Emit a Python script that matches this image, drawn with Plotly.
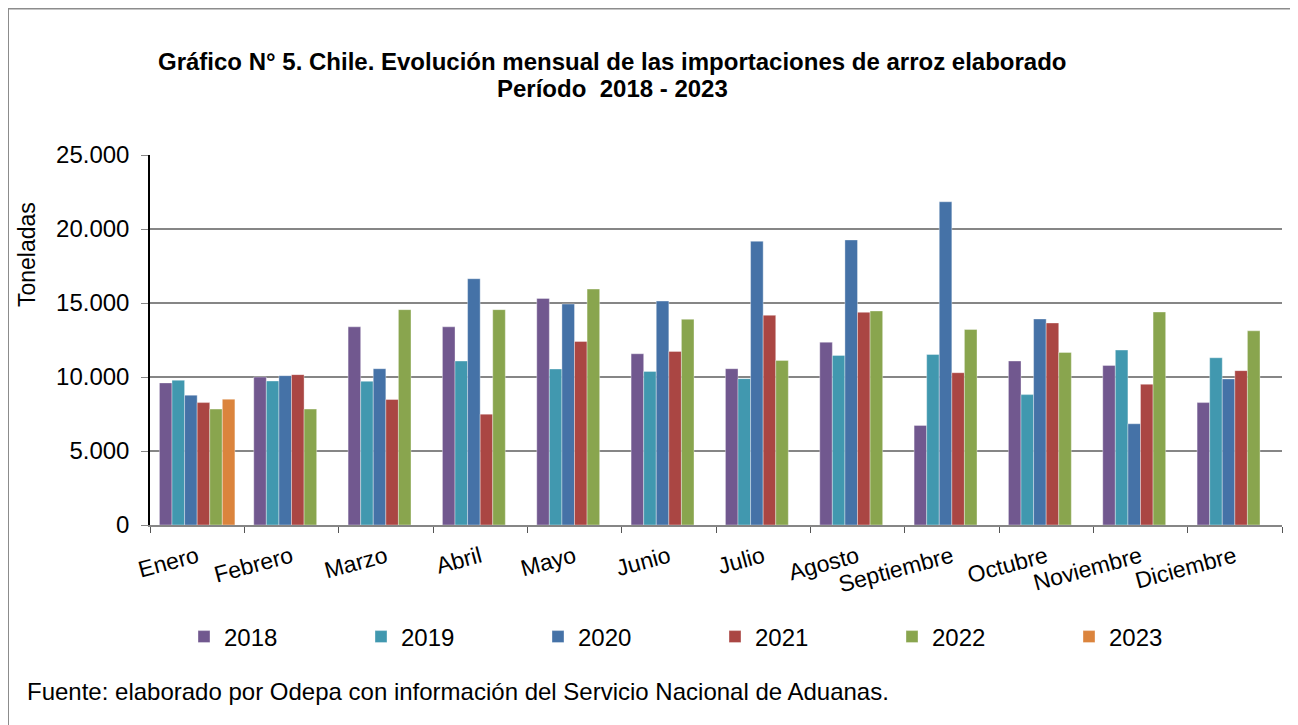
import plotly.graph_objects as go

months = ["Enero", "Febrero", "Marzo", "Abril", "Mayo", "Junio", "Julio",
          "Agosto", "Septiembre", "Octubre", "Noviembre", "Diciembre"]

v2018 = [9600, 10000, 13390, 13390, 15310, 11570, 10560, 12350, 6730, 11080, 10780, 8270]
v2019 = [9780, 9730, 9710, 11080, 10540, 10380, 9890, 11460, 11520, 8810, 11820, 11300]
v2020 = [8770, 10090, 10560, 16640, 14930, 15130, 19170, 19260, 21840, 13920, 6840, 9870]
v2021 = [8270, 10160, 8480, 7490, 12400, 11730, 14170, 14370, 10290, 13650, 9510, 10430]
v2022 = [7830, 7830, 14550, 14550, 15940, 13900, 11120, 14460, 13210, 11660, 14390, 13120]
v2023 = [8500, None, None, None, None, None, None, None, None, None, None, None]

series = [
    ("2018", v2018, "#71588F"),
    ("2019", v2019, "#4198AF"),
    ("2020", v2020, "#4572A7"),
    ("2021", v2021, "#AA4643"),
    ("2022", v2022, "#89A54E"),
    ("2023", v2023, "#DB843D"),
]

fig = go.Figure()
for name, vals, color in series:
    fig.add_trace(go.Bar(
        x=months, y=vals, name=name,
        marker=dict(color=color, line=dict(color="rgba(255,255,255,0.6)", width=0.6)),
    ))

FONT = "Liberation Sans, Arial, sans-serif"
# page body has an 8px margin; coordinates below are figure pixels
W, H = 1290, 717
L, R, T, B = 142, 16, 147, 200
pw = W - L - R
ph = H - T - B

def px(x):
    return (x - L) / pw

def py(y):
    return (H - B - y) / ph

fig.update_layout(
    width=W, height=H,
    margin=dict(l=L, r=R, t=T, b=B),
    paper_bgcolor="white", plot_bgcolor="white",
    barmode="group", bargap=0.2, bargroupgap=0,
    separators=",.",
    font=dict(family=FONT, color="black", size=22),
    showlegend=True,
    legend=dict(
        orientation="h", x=px(176), y=py(629), yanchor="middle", xanchor="left",
        font=dict(size=24), entrywidth=132, entrywidthmode="pixels",
        itemwidth=30, tracegroupgap=0, bgcolor="rgba(0,0,0,0)",
    ),
    xaxis=dict(
        tickangle=-15, tickfont=dict(size=23), ticks="outside", ticklen=6,
        tickson="boundaries", tickcolor="#555555", showline=True,
        linecolor="#868686", linewidth=1.5, showgrid=False,
        ticklabelstandoff=8,
    ),
    yaxis=dict(
        range=[0, 25000], dtick=5000, tickformat=",d",
        showgrid=True, gridcolor="#868686", gridwidth=1.5,
        showline=True, linecolor="black", linewidth=1.5,
        ticks="outside", ticklen=7, tickcolor="#868686",
        tickfont=dict(size=24), ticklabelstandoff=7,
        zeroline=False,
    ),
    annotations=[
        dict(text="<b>Gráfico N° 5. Chile. Evolución mensual de las importaciones de arroz elaborado</b>",
             xref="paper", yref="paper", x=px(604), y=py(54), xanchor="center", yanchor="middle",
             showarrow=False, font=dict(size=24)),
        dict(text="<b>Período  2018 - 2023</b>",
             xref="paper", yref="paper", x=px(604), y=py(80), xanchor="center", yanchor="middle",
             showarrow=False, font=dict(size=24)),
        dict(text="Toneladas", textangle=-90,
             xref="paper", yref="paper", x=px(19), y=py(247), xanchor="center", yanchor="middle",
             showarrow=False, font=dict(size=23)),
        dict(text="Fuente: elaborado por Odepa con información del Servicio Nacional de Aduanas.",
             xref="paper", yref="paper", x=px(17), y=py(683), xanchor="left", yanchor="middle",
             showarrow=False, font=dict(size=24)),
    ],
    shapes=[
        dict(type="rect", xref="paper", yref="paper",
             x0=px(0), x1=px(1283), y0=py(730), y1=py(0.5),
             line=dict(color="#8c8c8c", width=2), fillcolor="rgba(0,0,0,0)", layer="below"),
    ],
)

fig.write_html("out.html")
